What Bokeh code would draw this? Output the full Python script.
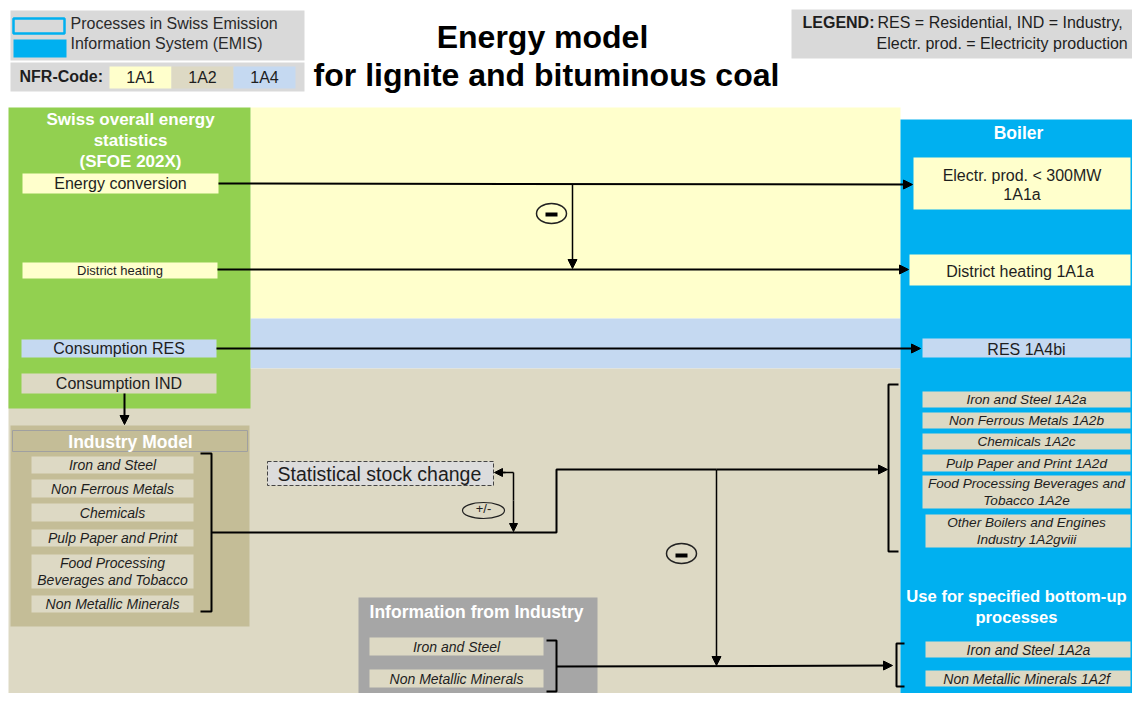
from bokeh.plotting import figure
from bokeh.models import Range1d, Arrow, NormalHead
from bokeh.core.properties import value
from bokeh.embed import file_html
from bokeh.resources import INLINE

# ---------------- texts / data ----------------
title_lines = ["Energy model", "for lignite and bituminous coal"]
emis_legend = ["Processes in Swiss Emission", "Information System (EMIS)"]
nfr_codes = ["1A1", "1A2", "1A4"]
legend_lines = ["RES = Residential, IND = Industry,", "Electr. prod. = Electricity production"]
stat_title = ["Swiss overall energy", "statistics", "(SFOE 202X)"]
stat_items = ["Energy conversion", "District heating", "Consumption RES", "Consumption IND"]
industry_title = "Industry Model"
industry_items = ["Iron and Steel", "Non Ferrous Metals", "Chemicals", "Pulp Paper and Print",
                  "Food Processing|Beverages and Tobacco", "Non Metallic Minerals"]
stock_label = "Statistical stock change"
info_title = "Information from Industry"
info_items = ["Iron and Steel", "Non Metallic Minerals"]
boiler_title = "Boiler"
boiler_top = ["Electr. prod. < 300MW|1A1a", "District heating 1A1a", "RES 1A4bi"]
boiler_items = ["Iron and Steel 1A2a", "Non Ferrous Metals 1A2b", "Chemicals 1A2c",
                "Pulp Paper and Print 1A2d", "Food Processing Beverages and|Tobacco 1A2e",
                "Other Boilers and Engines|Industry 1A2gviii"]
bottomup_title = ["Use for specified bottom-up", "processes"]
bottomup_items = ["Iron and Steel 1A2a", "Non Metallic Minerals  1A2f"]

# colours
GREEN = "#92d050"
BLUE = "#00b0f0"
YEL = "#ffffcc"
LBLUE = "#c5d9f1"
TAN = "#ddd9c4"
DTAN = "#c4bd97"
GRAY = "#a6a6a6"
LGRAY = "#d9d9d9"
TXT = "#1e1e1e"
FONT = "Liberation Sans"

p = figure(width=1132, height=693, x_range=Range1d(0, 1132), y_range=Range1d(693, 0),
           output_backend="svg", toolbar_location=None, x_axis_type=None, y_axis_type=None,
           min_border=0, min_border_left=0, min_border_right=0, min_border_top=0, min_border_bottom=0)
p.grid.visible = False
p.outline_line_color = None
p.background_fill_color = "white"
p.border_fill_color = "white"


def box(l, r, t, b, fill, line=None, lw=1, dash="solid"):
    p.quad(left=[l], right=[r], top=[t], bottom=[b], fill_color=fill,
           line_color=line, line_width=lw, line_dash=dash)


def label(x, y, text, size=16, style="normal", color=TXT, align="center"):
    p.text(x=[x], y=[y], text=[text], text_font=value(FONT), text_font_size=f"{size}px",
           text_font_style=style, text_color=color, text_align=align, text_baseline="middle")


def ml_label(x, yc, text, size=14, style="italic", gap=17, color=TXT):
    lines = text.split("|")
    n = len(lines)
    for i, ln in enumerate(lines):
        label(x, yc + (i - (n - 1) / 2) * gap, ln, size, style, color)


def line(xs, ys, lw=2):
    p.line(x=xs, y=ys, line_color="black", line_width=lw)


def arrow(x0, y0, x1, y1, lw=2, size=9):
    head = NormalHead(size=size, fill_color="black", line_color="black")
    p.add_layout(Arrow(end=head, start=None, x_start=x0, y_start=y0, x_end=x1, y_end=y1,
                       line_color="black", line_width=lw))


# ---------------- header ----------------
box(10, 304, 10, 60, LGRAY)
box(13, 64, 18, 33, LGRAY, line=BLUE, lw=2.5)
box(13, 66, 39, 57, BLUE)
for i, t in enumerate(emis_legend):
    label(70, 23 + i * 20, t, 16, align="left", color="#2a2a2a")
box(10, 304, 62, 91, LGRAY)
label(19, 76, "NFR-Code:", 16, "bold", align="left")
nfr_fill = [YEL, TAN, LBLUE]
for i, (c, f) in enumerate(zip(nfr_codes, nfr_fill)):
    l = 109 + i * 62
    box(l, l + 62, 66, 88, f)
    label(l + 31, 77, c, 16)

label(542, 36, title_lines[0], 32, "bold", color="black")
label(546, 74, title_lines[1], 32, "bold", color="black")

box(791, 1148, 9, 58, LGRAY)
label(802, 22, "LEGEND:", 16, "bold", align="left")
label(877, 22, legend_lines[0], 16, align="left")
label(876, 43, legend_lines[1], 16, align="left")

# ---------------- background bands ----------------
box(250, 900, 107, 318, YEL)
box(250, 900, 318, 368, LBLUE)
box(8, 900, 368, 709, TAN)

# ---------------- left: statistics ----------------
box(8, 250, 107, 408, GREEN)
for i, t in enumerate(stat_title):
    label(130, 119 + i * 21, t, 17, "bold", color="white")
stat_boxes = [(22, 218, 173, 193, YEL, 16), (22, 217, 262, 278, YEL, 13),
              (21, 216, 339, 357, LBLUE, 16), (21, 216, 373, 393, TAN, 16)]
for t, (l, r, tp, bt, f, s) in zip(stat_items, stat_boxes):
    box(l, r, tp, bt, f)
    label((l + r) / 2, (tp + bt) / 2, t, s)

# Industry model
box(10, 249, 425, 626, DTAN)
box(12, 247, 430, 451, DTAN, line="#a0a0a0", lw=1)
label(130, 441, industry_title, 17.5, "bold", color="white")
ind_rows = [(456, 473), (479, 497), (503, 521), (529, 546), (554, 588), (595, 612)]
for t, (tp, bt) in zip(industry_items, ind_rows):
    box(31, 193, tp, bt, TAN)
    ml_label(112, (tp + bt) / 2, t, 14, gap=17)

# bracket industry
line([200, 211, 211, 200], [453, 453, 611, 611])

# statistical stock change
box(267, 493, 461, 485, "#dcdcdc", line="#444444", lw=1, dash="4 2")
label(277, 473, stock_label, 19.5, align="left")

# ---------------- right: boiler ----------------
box(900, 1148, 119, 709, BLUE)
label(1018, 132, boiler_title, 17.5, "bold", color="white")
bt_boxes = [(913, 1130, 157, 209, YEL), (909, 1130, 254, 285, YEL), (922, 1130, 338, 357, LBLUE)]
for t, (l, r, tp, bt, f) in zip(boiler_top, bt_boxes):
    box(l, r, tp, bt, f)
    ml_label((l + r) / 2, (tp + bt) / 2 + 1, t, 16, style="normal", gap=19)

bi_rows = [(391, 407, 922), (412, 428, 922), (433, 449, 922), (454, 471, 922),
           (475, 508, 922), (514, 547, 925)]
for t, (tp, bt, l) in zip(boiler_items, bi_rows):
    box(l, 1130, tp, bt, TAN)
    ml_label(1026, (tp + bt) / 2, t, 13.6, gap=17)

for i, t in enumerate(bottomup_title):
    label(1016, 596 + i * 21, t, 16.6, "bold", color="white")
for t, (tp, bt) in zip(bottomup_items, [(641, 657), (670, 686)]):
    box(925, 1130, tp, bt, TAN)
    ml_label(1028, (tp + bt) / 2, t, 14)

# brackets right
line([898, 888, 888, 898], [384, 384, 551, 551])
line([904, 896, 896, 904], [643, 643, 686, 686])

# ---------------- information from industry ----------------
box(358, 597, 597, 709, GRAY)
label(476, 611, info_title, 17.5, "bold", color="white")
for t, (tp, bt) in zip(info_items, [(637, 655), (669, 687)]):
    box(369, 543, tp, bt, TAN)
    ml_label(456, (tp + bt) / 2, t, 14)
line([546, 556, 556, 546], [640, 640, 691, 691])

# ---------------- flows ----------------
arrow(218, 183, 912, 184)
arrow(217, 269, 908, 269)
arrow(216, 348, 920, 348)
arrow(572, 184, 572, 268, lw=1.5)
arrow(124, 393, 124, 424, lw=2)

line([211, 556, 556, 716], [532, 532, 469, 469])
arrow(716, 469, 887, 469)
arrow(716, 469, 716, 665, lw=1.5)
arrow(556, 666, 892, 665)
# stock change double arrow
line([513, 513], [472, 500], lw=1.5)
line([497, 513], [472, 472], lw=1.5)
arrow(505, 472, 494, 472, lw=1.5, size=8)
arrow(513, 500, 513, 531, lw=1.5, size=8)

# operator ellipses
p.ellipse(x=[551], y=[213], width=30, height=20, fill_color=None, line_color="#222", line_width=1.5)
p.segment(x0=[545], y0=[214], x1=[557], y1=[214], line_color="black", line_width=4)
p.ellipse(x=[681], y=[553], width=30, height=20, fill_color=None, line_color="#222", line_width=1.5)
p.segment(x0=[675], y0=[555], x1=[687], y1=[555], line_color="black", line_width=4)
p.ellipse(x=[483], y=[510], width=42, height=16, fill_color=None, line_color="#222", line_width=1.2)
label(483, 508, "+/-", 13)

open("out.html", "w").write(file_html(p, INLINE))
